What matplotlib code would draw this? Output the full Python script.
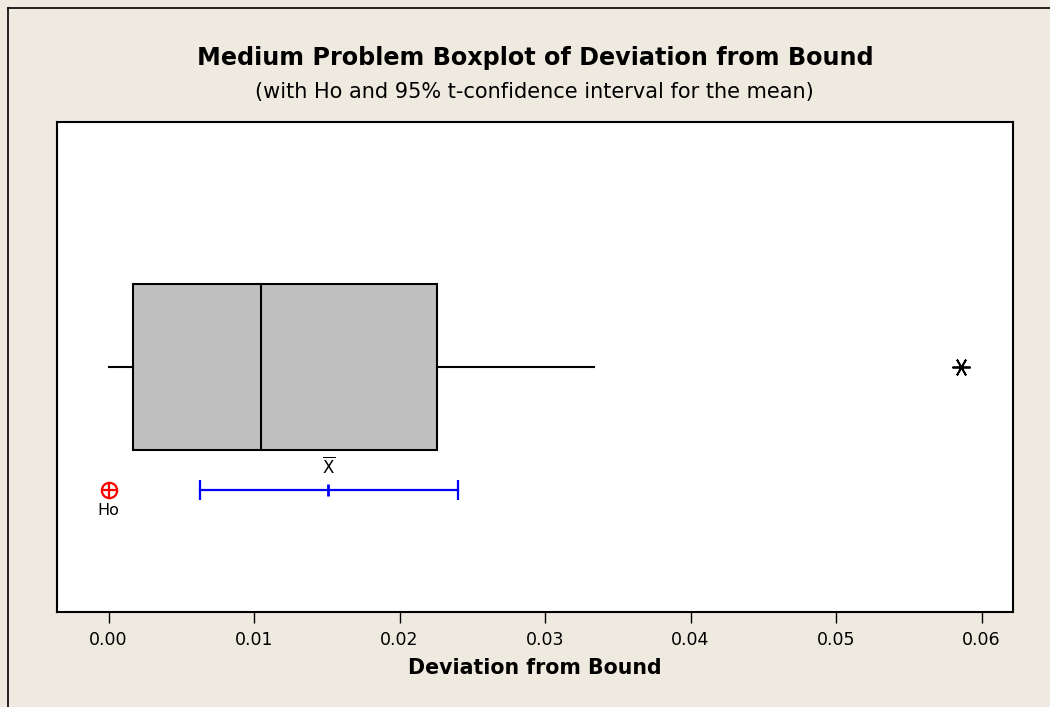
import matplotlib
matplotlib.use("Agg")
import matplotlib.pyplot as plt
from matplotlib.lines import Line2D

# ---- data ----
whisker_low = 0.0
q1 = 0.0017
median = 0.0105
q3 = 0.0226
whisker_high = 0.0334
outliers = [0.0586]
ci_low = 0.0063
ci_mean = 0.0151
ci_high = 0.0240
h0_value = 0.0
x_ticks = [0.00, 0.01, 0.02, 0.03, 0.04, 0.05, 0.06]
x_tick_labels = ["0.00", "0.01", "0.02", "0.03", "0.04", "0.05", "0.06"]

title = "Medium Problem Boxplot of Deviation from Bound"
subtitle = "(with Ho and 95% t-confidence interval for the mean)"
xlabel = "Deviation from Bound"

BG = "#EEEAE0"
plt.rcParams['font.family'] = ['DejaVu Sans']

fig = plt.figure(figsize=(10.5, 7.07), dpi=100, facecolor=BG)
ax = fig.add_axes([57/1050, 1-612/707, (1013-57)/1050, (612-122)/707])
ax.set_facecolor("white")

stats = [dict(whislo=whisker_low, q1=q1, med=median, q3=q3,
              whishi=whisker_high, fliers=outliers)]
ax.bxp(stats, positions=[0.5], widths=0.337, vert=False, patch_artist=True,
       showcaps=False,
       boxprops=dict(facecolor="#C0C0C0", edgecolor="black", linewidth=1.5),
       medianprops=dict(color="black", linewidth=1.5),
       whiskerprops=dict(color="black", linewidth=1.5),
       flierprops=dict(marker=(6, 2, 90), markersize=13, markeredgecolor="black",
                       markeredgewidth=1.3, linestyle="none"))

# confidence interval
ci_y = 0.25
ax.plot([ci_low, ci_high], [ci_y, ci_y], color="#0000FF", linewidth=1.6)
ax.plot([ci_low, ci_high], [ci_y, ci_y], linestyle="none", marker="|",
        markersize=15, markeredgewidth=1.6, color="#0000FF")
ax.plot([ci_mean], [ci_y], linestyle="none", marker="|", markersize=9,
        markeredgewidth=2, color="#0000FF")
ax.text(ci_mean, ci_y + 0.025, r"$\overline{\mathrm{X}}$", ha="center", va="bottom",
        fontsize=12)

# Ho
ax.plot([h0_value], [ci_y], linestyle="none", marker="o", markersize=11,
        markerfacecolor="none", markeredgecolor="red", markeredgewidth=1.6)
ax.plot([h0_value], [ci_y], linestyle="none", marker="+", markersize=11,
        markeredgecolor="red", markeredgewidth=1.6)
ax.text(h0_value, ci_y - 0.028, "Ho", ha="center", va="top", fontsize=11.5)

ax.set_xlim((57-108.5)/14550, (1013-108.5)/14550)
ax.set_ylim(0, 1)
ax.set_yticks([])
ax.set_xticks(x_ticks)
ax.set_xticklabels(x_tick_labels, fontsize=12.5)
ax.tick_params(axis="x", direction="out", length=8, width=1, pad=6)
for s in ax.spines.values():
    s.set_linewidth(1.5)
ax.set_xlabel(xlabel, fontsize=14.8, fontweight="bold", labelpad=6)

fig.text(535/1050, 1-58/707, title, ha="center", va="center", fontsize=17.2,
         fontweight="bold")
fig.text(534/1050, 1-92/707, subtitle, ha="center", va="center", fontsize=15)

# outer frame lines (top and left)
fig.add_artist(Line2D([8/1050, 8/1050], [0, 1-8/707], transform=fig.transFigure,
                      color="black", linewidth=1.2))
fig.add_artist(Line2D([8/1050, 1], [1-8/707, 1-8/707], transform=fig.transFigure,
                      color="black", linewidth=1.2))

fig.savefig("out.png", dpi=100, facecolor=BG)
